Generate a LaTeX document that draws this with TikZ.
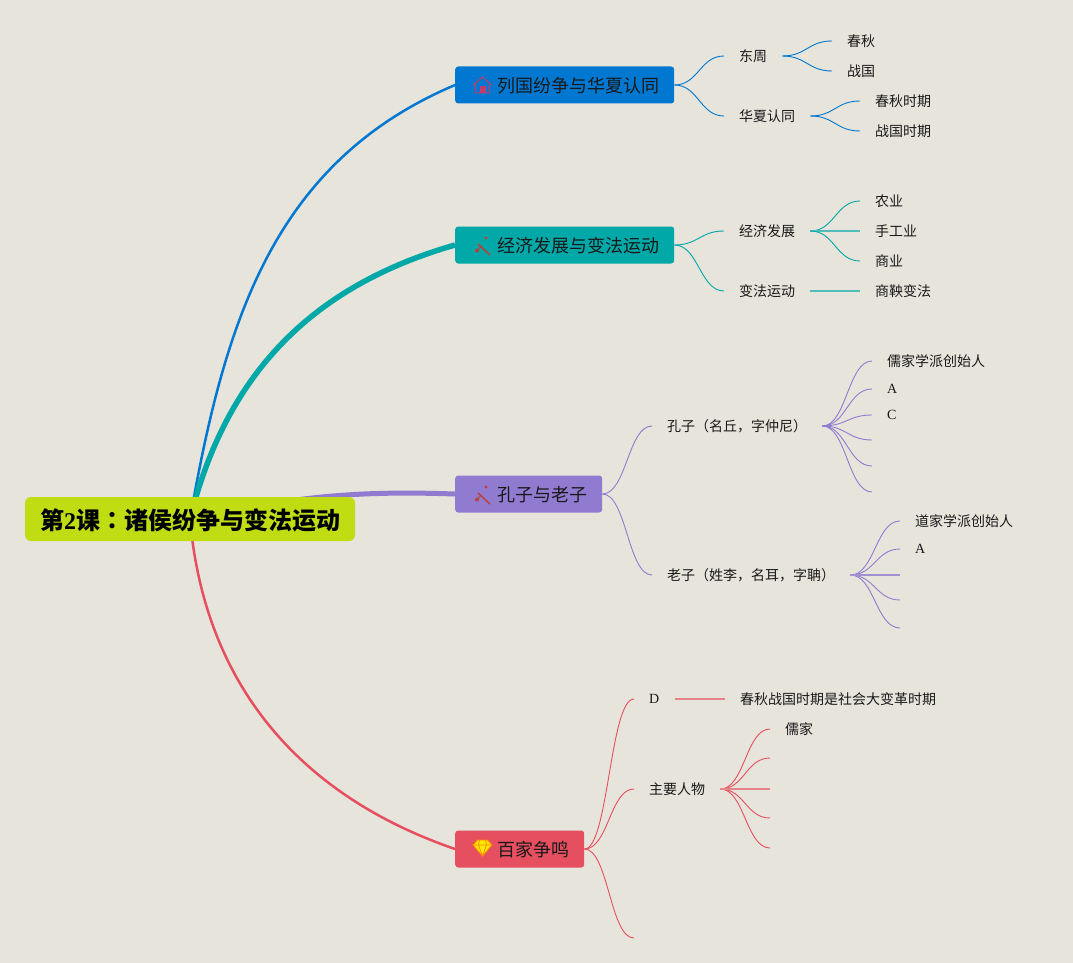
\documentclass[tikz,border=0pt]{standalone}
\usepackage{fontspec}
\setmainfont{Liberation Serif}
\newfontfamily\cjk{Noto Sans CJK SC}
\newfontfamily\cjkcolon{Noto Sans CJK TC}
\definecolor{paper}{HTML}{E7E4DB}
\definecolor{lime}{HTML}{C0DD14}
\definecolor{bluebr}{HTML}{0078D2}
\definecolor{tealbr}{HTML}{00A8A8}
\definecolor{purplebr}{HTML}{917BD1}
\definecolor{redbr}{HTML}{E64F60}
\definecolor{iconpink}{HTML}{C23B6A}
\definecolor{iconred}{HTML}{B8403C}
\begin{document}
\begin{tikzpicture}[
  x = 1pt, y = -1pt,
  topic/.style = {rounded corners = 3pt, inner xsep = 0pt, inner ysep = 0pt,
    minimum height = 37pt, text height = 17pt, text depth = 2pt,
    font = \fontsize{18}{18}\selectfont\cjk, text = black!90},
  leaf/.style = {inner xsep = 15pt, inner ysep = 3pt,
    font = \fontsize{14}{14}\selectfont\cjk, text = black!90},
  limb/.style = {out = 0, in = 180, distance = 24pt, line width = 0.9pt},
  flatlimb/.style = {line width = 1.2pt},
  iconhouse/.pic = {
    \draw [line width = 1pt, draw = iconpink, line join = round]
      (-9,0) -- (0,-8) -- (9,0) (-7,-1) -- (-7,8) -- (7,8) -- (7,-1);
    \fill [iconpink] (-3,8) rectangle (3,1);
  },
  icontools/.pic = {
    \draw [line width = 1.5pt, draw = iconred] (-4.5,-1) -- (7.5,10);
    \draw [line width = 1pt, draw = iconred] (-7,7) -- (-1,1);
    \fill [iconred] (3.5,-7) circle (1.6) (-5.5,5.5) circle (2);
  },
  icondiamond/.pic = {
    \fill [yellow!90!orange, draw = orange!90!yellow, line width = 0.8pt, line join = round]
      (-5,-8) -- (5,-8) -- (9.5,-3) -- (0,8) -- (-9.5,-3) -- cycle;
    \draw [orange!90!yellow, line width = 0.8pt]
      (-9.5,-3) -- (9.5,-3) (-3,-8) -- (-4,-3) -- (0,8) -- (4,-3) -- (3,-8);
  }
  ]

  \fill [paper] (0,0) rectangle (1073,963);

  % Main branches
  \coordinate (root_c) at (190,519);
  \node at (455,85) [topic, anchor = west, fill = bluebr, name = lieguo]
    {\hspace*{42pt}列国纷争与华夏认同\hspace*{15pt}};
  \node at (455,245) [topic, anchor = west, fill = tealbr, name = jingji]
    {\hspace*{42pt}经济发展与变法运动\hspace*{15pt}};
  \node at (455,494) [topic, anchor = west, fill = purplebr, name = kongzi]
    {\hspace*{42pt}孔子与老子\hspace*{15pt}};
  \node at (455,849) [topic, anchor = west, fill = redbr, name = baijia]
    {\hspace*{42pt}百家争鸣\hspace*{15pt}};
  \pic at (482.5,85) {iconhouse};
  \pic at (482.5,245) {icontools};
  \pic at (482.5,494) {icontools};
  \pic at (482.5,848) {icondiamond};

  \draw [bluebr, line width = 2.5pt] (root_c) to [out = 80, in = 203] (lieguo.west);
  \draw [tealbr, line width = 5.5pt] (root_c) to [out = 76, in = 196] (jingji.west);
  \draw [purplebr, line width = 5pt] (root_c) to [out = 12, in = 178] (kongzi.west);
  \draw [redbr, line width = 2.5pt] (root_c) to [out = -85, in = 161] (baijia.west);

  \node at (190,519) [rounded corners = 6pt, fill = lime, minimum width = 330pt,
    minimum height = 44pt, inner sep = 0pt, name = root,
    text height = 24pt, text depth = 2.4pt,
    font = \fontsize{24}{24}\selectfont\bfseries]
    {{\cjk 第}2{\cjk 课}{\cjkcolon ：}{\cjk 诸侯纷争与变法运动}};

  % Sub topics, first branch
  \node at (724,56) [leaf, anchor = west, name = dongzhou] {东周};
  \node at (724,116) [leaf, anchor = west, name = huaxia] {华夏认同};
  \node at (832,41) [leaf, anchor = west, name = chunqiu] {春秋};
  \node at (832,71) [leaf, anchor = west, name = zhanguo] {战国};
  \node at (860,101) [leaf, anchor = west, name = cqsq] {春秋时期};
  \node at (860,131) [leaf, anchor = west, name = zgsq] {战国时期};

  \draw [bluebr, limb] (lieguo) to (dongzhou);
  \draw [bluebr, limb] (lieguo) to (huaxia);
  \draw [bluebr, limb] (dongzhou) to (chunqiu);
  \draw [bluebr, limb] (dongzhou) to (zhanguo);
  \draw [bluebr, limb] (huaxia) to (cqsq);
  \draw [bluebr, limb] (huaxia) to (zgsq);

  % Second branch
  \node at (724,231) [leaf, anchor = west, name = fazhan] {经济发展};
  \node at (724,291) [leaf, anchor = west, name = bianfa] {变法运动};
  \node at (860,201) [leaf, anchor = west, name = nongye] {农业};
  \node at (860,231) [leaf, anchor = west, name = shougong] {手工业};
  \node at (860,261) [leaf, anchor = west, name = shangye] {商业};
  \node at (860,291) [leaf, anchor = west, name = shangyang] {商鞅变法};

  \draw [tealbr, limb] (jingji) to (fazhan);
  \draw [tealbr, limb] (jingji) to (bianfa);
  \draw [tealbr, limb] (fazhan) to (nongye);
  \draw [tealbr!65!paper, flatlimb] (fazhan) to (shougong);
  \draw [tealbr, limb] (fazhan) to (shangye);
  \draw [tealbr!65!paper, flatlimb] (bianfa) to (shangyang);

  % Third branch
  \node at (652,426) [leaf, anchor = west, name = kong] {孔子（名丘，字仲尼）};
  \node at (652,575) [leaf, anchor = west, name = lao] {老子（姓李，名耳，字聃）};
  \node at (872,361) [leaf, anchor = west, name = rujia] {儒家学派创始人};
  \node at (872,389) [leaf, anchor = west, name = k_a, font = \fontsize{14}{14}\selectfont] {A};
  \node at (872,415) [leaf, anchor = west, name = k_c, font = \fontsize{14}{14}\selectfont] {C};
  \coordinate (k_4) at (872,440);
  \coordinate (k_5) at (872,466);
  \coordinate (k_6) at (872,492);
  \node at (900,521) [leaf, anchor = west, name = daojia] {道家学派创始人};
  \node at (900,549) [leaf, anchor = west, name = l_a, font = \fontsize{14}{14}\selectfont] {A};
  \coordinate (l_3) at (900,575);
  \coordinate (l_4) at (900,600);
  \coordinate (l_5) at (900,628);

  \draw [purplebr, limb] (kongzi) to (kong);
  \draw [purplebr, limb] (kongzi) to (lao);
  \foreach \leafname in {rujia, k_a, k_c, k_4, k_5, k_6}
    \draw [purplebr, limb] (kong) to (\leafname);
  \foreach \leafname in {daojia, l_a, l_4, l_5}
    \draw [purplebr, limb] (lao) to (\leafname);
  \draw [purplebr!80!paper, flatlimb] (lao) to (l_3);

  % Fourth branch
  \node at (634,699) [leaf, anchor = west, name = d_node, font = \fontsize{14}{14}\selectfont] {D};
  \node at (634,789) [leaf, anchor = west, name = renwu] {主要人物};
  \coordinate (b_3) at (634,938);
  \node at (725,699) [leaf, anchor = west, name = biange] {春秋战国时期是社会大变革时期};
  \node at (770,729) [leaf, anchor = west, name = ru] {儒家};
  \coordinate (r_2) at (770,758);
  \coordinate (r_3) at (770,789);
  \coordinate (r_4) at (770,818);
  \coordinate (r_5) at (770,848);

  \draw [redbr, limb] (baijia) to (d_node);
  \draw [redbr, limb] (baijia) to (renwu);
  \draw [redbr, limb] (baijia) to (b_3);
  \draw [redbr!65!paper, flatlimb] (d_node) to (biange);
  \foreach \leafname in {ru, r_2, r_4, r_5}
    \draw [redbr, limb] (renwu) to (\leafname);
  \draw [redbr!65!paper, flatlimb] (renwu) to (r_3);

\end{tikzpicture}
\end{document}
